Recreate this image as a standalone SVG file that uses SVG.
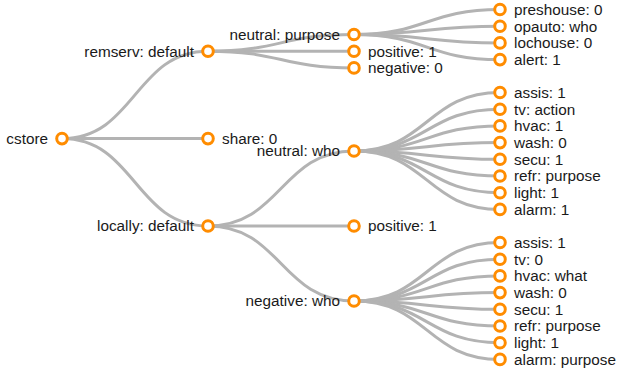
<svg xmlns="http://www.w3.org/2000/svg" width="617" height="372" viewBox="0 0 617 372">
<style>
.link{fill:none;stroke:#b3b3b3;stroke-width:3}
.node circle{fill:#fff;stroke:#ff8c00;stroke-width:3}
.node text{font-family:"Liberation Sans",Arial,sans-serif;font-size:15.3px;fill:#1a1a1a}
.l text{text-anchor:start}
.i text{text-anchor:end}
</style>
<rect width="617" height="372" fill="#fff"/>
<g id="links">
<path class="link" d="M62,138.6C135,138.6 135,51.2 208,51.2"/>
<path class="link" d="M62,138.6C135,138.6 135,138.6 208,138.6"/>
<path class="link" d="M62,138.6C135,138.6 135,226 208,226"/>
<path class="link" d="M208,51.2C281,51.2 281,34.5 354,34.5"/>
<path class="link" d="M208,51.2C281,51.2 281,51.2 354,51.2"/>
<path class="link" d="M208,51.2C281,51.2 281,67.9 354,67.9"/>
<path class="link" d="M354,34.5C427,34.5 427,9.5 500,9.5"/>
<path class="link" d="M354,34.5C427,34.5 427,26.2 500,26.2"/>
<path class="link" d="M354,34.5C427,34.5 427,42.9 500,42.9"/>
<path class="link" d="M354,34.5C427,34.5 427,59.6 500,59.6"/>
<path class="link" d="M208,226C281,226 281,151 354,151"/>
<path class="link" d="M208,226C281,226 281,226 354,226"/>
<path class="link" d="M208,226C281,226 281,301 354,301"/>
<path class="link" d="M354,151C427,151 427,92.5 500,92.5"/>
<path class="link" d="M354,151C427,151 427,109.2 500,109.2"/>
<path class="link" d="M354,151C427,151 427,125.9 500,125.9"/>
<path class="link" d="M354,151C427,151 427,142.6 500,142.6"/>
<path class="link" d="M354,151C427,151 427,159.3 500,159.3"/>
<path class="link" d="M354,151C427,151 427,176 500,176"/>
<path class="link" d="M354,151C427,151 427,192.7 500,192.7"/>
<path class="link" d="M354,151C427,151 427,209.4 500,209.4"/>
<path class="link" d="M354,301C427,301 427,242.5 500,242.5"/>
<path class="link" d="M354,301C427,301 427,259.2 500,259.2"/>
<path class="link" d="M354,301C427,301 427,275.9 500,275.9"/>
<path class="link" d="M354,301C427,301 427,292.6 500,292.6"/>
<path class="link" d="M354,301C427,301 427,309.3 500,309.3"/>
<path class="link" d="M354,301C427,301 427,326 500,326"/>
<path class="link" d="M354,301C427,301 427,342.7 500,342.7"/>
<path class="link" d="M354,301C427,301 427,359.4 500,359.4"/>
</g>
<g id="n-cstore" class="node i" transform="translate(62,138.6)"><circle r="5.3"/><text x="-14" dy=".35em">cstore</text></g>
<g id="n-remserv" class="node i" transform="translate(208,51.2)"><circle r="5.3"/><text x="-14" dy=".35em">remserv: default</text></g>
<g id="n-share" class="node l" transform="translate(208,138.6)"><circle r="5.3"/><text x="14" dy=".35em">share: 0</text></g>
<g id="n-locally" class="node i" transform="translate(208,226)"><circle r="5.3"/><text x="-14" dy=".35em">locally: default</text></g>
<g id="n-neutral-purpose" class="node i" transform="translate(354,34.5)"><circle r="5.3"/><text x="-14" dy=".35em">neutral: purpose</text></g>
<g id="n-positive-a" class="node l" transform="translate(354,51.2)"><circle r="5.3"/><text x="14" dy=".35em">positive: 1</text></g>
<g id="n-negative-a" class="node l" transform="translate(354,67.9)"><circle r="5.3"/><text x="14" dy=".35em">negative: 0</text></g>
<g id="n-preshouse" class="node l" transform="translate(500,9.5)"><circle r="5.3"/><text x="14" dy=".35em">preshouse: 0</text></g>
<g id="n-opauto" class="node l" transform="translate(500,26.2)"><circle r="5.3"/><text x="14" dy=".35em">opauto: who</text></g>
<g id="n-lochouse" class="node l" transform="translate(500,42.9)"><circle r="5.3"/><text x="14" dy=".35em">lochouse: 0</text></g>
<g id="n-alert" class="node l" transform="translate(500,59.6)"><circle r="5.3"/><text x="14" dy=".35em">alert: 1</text></g>
<g id="n-neutral-who" class="node i" transform="translate(354,151)"><circle r="5.3"/><text x="-14" dy=".35em">neutral: who</text></g>
<g id="n-positive-b" class="node l" transform="translate(354,226)"><circle r="5.3"/><text x="14" dy=".35em">positive: 1</text></g>
<g id="n-negative-who" class="node i" transform="translate(354,301)"><circle r="5.3"/><text x="-14" dy=".35em">negative: who</text></g>
<g id="n-assis-a" class="node l" transform="translate(500,92.5)"><circle r="5.3"/><text x="14" dy=".35em">assis: 1</text></g>
<g id="n-tv-a" class="node l" transform="translate(500,109.2)"><circle r="5.3"/><text x="14" dy=".35em">tv: action</text></g>
<g id="n-hvac-a" class="node l" transform="translate(500,125.9)"><circle r="5.3"/><text x="14" dy=".35em">hvac: 1</text></g>
<g id="n-wash-a" class="node l" transform="translate(500,142.6)"><circle r="5.3"/><text x="14" dy=".35em">wash: 0</text></g>
<g id="n-secu-a" class="node l" transform="translate(500,159.3)"><circle r="5.3"/><text x="14" dy=".35em">secu: 1</text></g>
<g id="n-refr-a" class="node l" transform="translate(500,176)"><circle r="5.3"/><text x="14" dy=".35em">refr: purpose</text></g>
<g id="n-light-a" class="node l" transform="translate(500,192.7)"><circle r="5.3"/><text x="14" dy=".35em">light: 1</text></g>
<g id="n-alarm-a" class="node l" transform="translate(500,209.4)"><circle r="5.3"/><text x="14" dy=".35em">alarm: 1</text></g>
<g id="n-assis-b" class="node l" transform="translate(500,242.5)"><circle r="5.3"/><text x="14" dy=".35em">assis: 1</text></g>
<g id="n-tv-b" class="node l" transform="translate(500,259.2)"><circle r="5.3"/><text x="14" dy=".35em">tv: 0</text></g>
<g id="n-hvac-b" class="node l" transform="translate(500,275.9)"><circle r="5.3"/><text x="14" dy=".35em">hvac: what</text></g>
<g id="n-wash-b" class="node l" transform="translate(500,292.6)"><circle r="5.3"/><text x="14" dy=".35em">wash: 0</text></g>
<g id="n-secu-b" class="node l" transform="translate(500,309.3)"><circle r="5.3"/><text x="14" dy=".35em">secu: 1</text></g>
<g id="n-refr-b" class="node l" transform="translate(500,326)"><circle r="5.3"/><text x="14" dy=".35em">refr: purpose</text></g>
<g id="n-light-b" class="node l" transform="translate(500,342.7)"><circle r="5.3"/><text x="14" dy=".35em">light: 1</text></g>
<g id="n-alarm-b" class="node l" transform="translate(500,359.4)"><circle r="5.3"/><text x="14" dy=".35em">alarm: purpose</text></g>
</svg>
